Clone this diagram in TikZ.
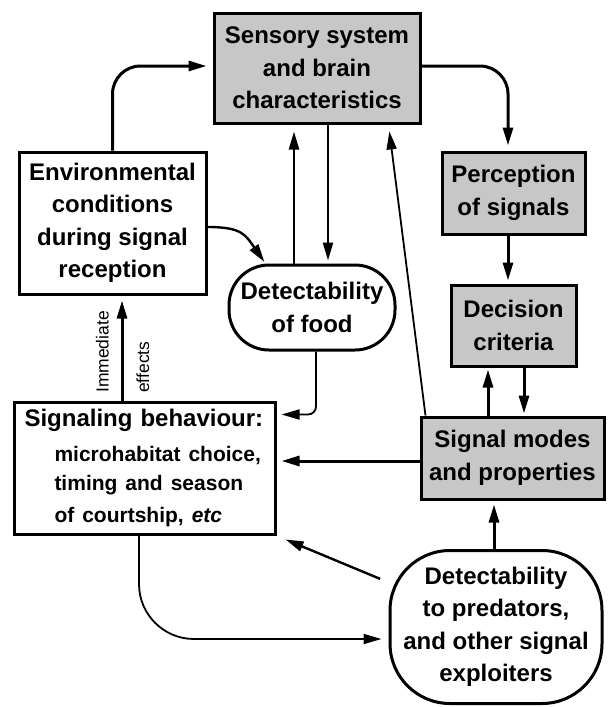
\documentclass[tikz,border=0pt]{standalone}
\usepackage{fontspec}
\setmainfont{Liberation Sans}
\usetikzlibrary{arrows.meta}
\begin{document}
\begin{tikzpicture}[x=1pt,y=-1pt,
  base/.style={draw, line width=3pt, align=center, inner sep=0pt,
    font=\bfseries\fontsize{24}{32.5}\selectfont},
  shadedbox/.style={base, fill=black!22},
  plainbox/.style={base, fill=white},
  tipA/.style={-{Triangle[length=18pt,width=10pt]}},
  arrowA/.style={tipA, line width=3pt},
  arrowB/.style={tipA, line width=2.4pt},
  arrowC/.style={tipA, line width=1.8pt},
  sidelabel/.style={font=\fontsize{17.5}{19}\selectfont, rotate=90, anchor=base west, inner sep=0pt}]
\useasboundingbox (0,0) rectangle (610,707);

\node[shadedbox, minimum width=206pt, minimum height=110pt] (sens) at (317,68) {Sensory system\\and brain\\characteristics};
\node[plainbox, minimum width=187pt, minimum height=142pt] (env) at (112.5,223) {Environmental\\conditions\\during signal\\reception};
\node[shadedbox, minimum width=143pt, minimum height=82pt] (perc) at (513.5,193) {Perception\\of signals};
\node[plainbox, rounded corners=40pt, minimum width=166pt, minimum height=85pt] (food) at (312,307.5) {Detectability\\of food};
\node[shadedbox, minimum width=125pt, minimum height=81pt] (dec) at (513.5,325.5) {Decision\\criteria};
\node[shadedbox, minimum width=183pt, minimum height=82pt] (sig) at (512.5,458) {Signal modes\\and properties};
\node[plainbox, minimum width=261pt, minimum height=132pt, text width=240pt, align=left] (beh) at (144.5,468)
  {Signaling behaviour:\\[6.5pt]\fontsize{21}{28.5}\selectfont\hspace*{30pt}microhabitat choice,\\\hspace*{30pt}timing and season\\\hspace*{30pt}of courtship, \textit{etc}};
\node[plainbox, rounded corners=60pt, minimum width=212pt, minimum height=153pt] (pred) at (496,627) {Detectability\\to predators,\\and other signal\\exploiters};

\node[sidelabel] (imm) at (108.5,393) {Immediate};
\node[sidelabel] (eff) at (149,393) {effects};

% connectors
\draw[arrowA, rounded corners=28pt, shorten >=6pt] (env.north) |- ([yshift=2pt]sens.west);
\draw[arrowA, rounded corners=28pt, shorten >=5pt] ([yshift=2pt]sens.east) -| ([xshift=-5.5pt]perc.north);
\draw[arrowA, shorten >=3pt] ([xshift=-5.5pt]perc.south) -- ([xshift=-5.5pt]dec.north);
\draw[arrowA, shorten >=2pt] ([xshift=-24.5pt]sig.north) -- ([xshift=-24.5pt]sig.north |- dec.south);
\draw[arrowA, shorten >=2pt] ([xshift=10.5pt]dec.south) -- ([xshift=10.5pt]dec.south |- sig.north);
\draw[arrowC, shorten >=7pt] ([xshift=6pt]sig.north west) -- ([xshift=-33pt]sens.south east);
\draw[arrowB, shorten >=7pt] ([xshift=-18pt]food.north) -- ([xshift=-18pt]food.north |- sens.south);
\draw[arrowB, shorten >=3pt] ([xshift=16pt]food.north |- sens.south) -- ([xshift=16pt]food.north);
\draw[arrowB, shorten >=2pt] ([yshift=-4pt]env.east) to[out=0, in=125, looseness=1.3] ([xshift=38pt]food.north west);
\draw[arrowC, rounded corners=8pt, shorten >=5pt] ([xshift=4pt]food.south) |- ([yshift=-14pt]beh.north east);
\draw[arrowA, shorten >=5pt] ([yshift=-3pt]sig.west) -- ([yshift=-3pt]sig.west -| beh.east);
\draw[arrowA, shorten >=5pt] ([xshift=-22.5pt]beh.north) -- ([xshift=-22.5pt]beh.north |- env.south);
\draw[arrowC, rounded corners=55pt, shorten >=7pt] ([xshift=-5.5pt]beh.south) |- ([yshift=-12pt]pred.west);
\draw[arrowB, shorten <=9pt] (pred) -- ([xshift=9pt,yshift=-4pt]beh.south east);
\draw[arrowA, shorten >=4pt] ([xshift=-2pt]pred.north) -- ([xshift=-2pt]pred.north |- sig.south);
\end{tikzpicture}
\end{document}
